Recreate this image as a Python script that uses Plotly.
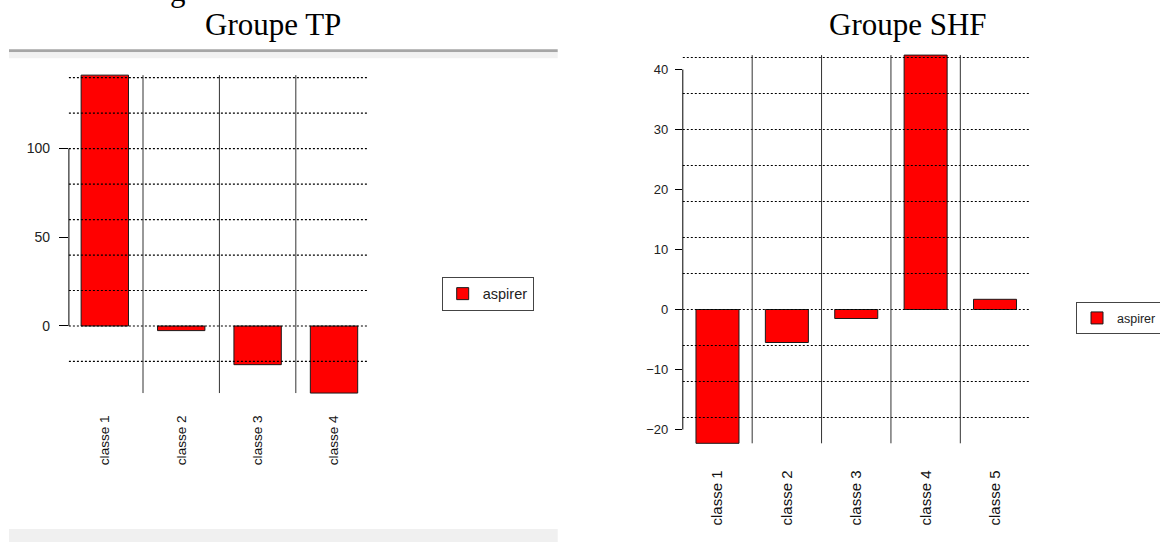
import plotly.graph_objects as go

# Groupe TP
tp_classes = ["classe 1", "classe 2", "classe 3", "classe 4"]
tp_aspirer = [141.4, -2.6, -21.8, -37.8]
tp_ticks = [0, 50, 100]
tp_grid = [-20, 0, 20, 40, 60, 80, 100, 120, 140]

# Groupe SHF
shf_classes = ["classe 1", "classe 2", "classe 3", "classe 4", "classe 5"]
shf_aspirer = [-22.3, -5.5, -1.5, 42.4, 1.7]
shf_ticks = [-20, -10, 0, 10, 20, 30, 40]
shf_grid = [-18, -12, -6, 0, 6, 12, 18, 24, 30, 36, 42]

W, H = 1160, 542
RED = "#ff0000"
SANS = "Liberation Sans, Arial, sans-serif"
NARROW = "Liberation Sans Narrow, Arial Narrow, Liberation Sans, sans-serif"
SERIF = "Liberation Serif, Times New Roman, serif"


def fx(p):
    return p / W


def fy(p):
    return 1 - p / H


fig = go.Figure()
fig.add_trace(go.Bar(x=tp_classes, y=tp_aspirer, name="aspirer",
                     marker=dict(color=RED, line=dict(color="#1a1a1a", width=1)),
                     xaxis="x", yaxis="y", legend="legend"))
fig.add_trace(go.Bar(x=shf_classes, y=shf_aspirer, name="aspirer",
                     marker=dict(color=RED, line=dict(color="#1a1a1a", width=1)),
                     xaxis="x2", yaxis="y2", legend="legend2"))

shapes = []
# dotted grid lines drawn over the bars
for v in tp_grid:
    shapes.append(dict(type="line", xref="x domain", yref="y", x0=0, x1=1, y0=v, y1=v,
                       line=dict(color="black", width=1.2, dash="2px,2px"), layer="above"))
for v in shf_grid:
    shapes.append(dict(type="line", xref="x2 domain", yref="y2", x0=0, x1=1, y0=v, y1=v,
                       line=dict(color="black", width=1.2, dash="2px,2px"), layer="above"))
# separators between classes
for i in range(len(tp_classes) - 1):
    shapes.append(dict(type="line", xref="x", yref="y", x0=i + 0.5, x1=i + 0.5,
                       y0=min(tp_aspirer), y1=max(tp_aspirer),
                       line=dict(color="#333", width=1)))
for i in range(len(shf_classes) - 1):
    shapes.append(dict(type="line", xref="x2", yref="y2", x0=i + 0.5, x1=i + 0.5,
                       y0=min(shf_aspirer), y1=max(shf_aspirer),
                       line=dict(color="#333", width=1)))
# y axis lines (only between first and last tick, like R)
shapes.append(dict(type="line", xref="x domain", yref="y", x0=0, x1=0,
                   y0=min(tp_ticks), y1=max(tp_ticks), line=dict(color="black", width=1)))
shapes.append(dict(type="line", xref="x2 domain", yref="y2", x0=0, x1=0,
                   y0=min(shf_ticks), y1=max(shf_ticks), line=dict(color="black", width=1)))
# page decorations of the left screenshot
shapes.append(dict(type="rect", xref="paper", yref="paper", x0=fx(9), x1=fx(557.7),
                   y0=fy(52.3), y1=fy(49.3), fillcolor="#a6a6a6", line_width=0, layer="below"))
shapes.append(dict(type="rect", xref="paper", yref="paper", x0=fx(9), x1=fx(557.7),
                   y0=fy(58.3), y1=fy(52.3), fillcolor="#f1f1f1", line_width=0, layer="below"))
shapes.append(dict(type="rect", xref="paper", yref="paper", x0=fx(9), x1=fx(557.7),
                   y0=0, y1=fy(529), fillcolor="#f0f0f0", line_width=0, layer="below"))

annotations = [
    dict(text="Groupe TP", xref="paper", yref="paper", x=fx(273), y=fy(24.5),
         xanchor="center", yanchor="middle",
         showarrow=False, font=dict(family=SERIF, size=31, color="black")),
    dict(text="Groupe SHF", xref="paper", yref="paper", x=fx(907.5), y=fy(24.5),
         xanchor="center", yanchor="middle",
         showarrow=False, font=dict(family=SERIF, size=31, color="black")),
    dict(text="g", xref="paper", yref="paper", x=fx(178), y=fy(-9),
         xanchor="center", yanchor="middle",
         showarrow=False, font=dict(family=SERIF, size=31, color="black")),
]

fig.update_layout(
    width=W, height=H,
    margin=dict(l=0, r=0, t=0, b=0, autoexpand=False),
    paper_bgcolor="white", plot_bgcolor="white",
    bargap=0.38,
    shapes=shapes,
    annotations=annotations,
    xaxis=dict(domain=[fx(68.9), fx(368.4)], range=[-0.47, 3.45], anchor="y",
               showgrid=False, zeroline=False, showline=False, ticks="",
               tickangle=-90, ticklabelstandoff=4, automargin=False,
               tickfont=dict(family=SANS, size=13.6, color="#111")),
    yaxis=dict(domain=[fy(407.6), fy(65.2)], range=[-46, 147], anchor="x",
               tickvals=tp_ticks, ticks="outside", ticklen=9, tickcolor="black",
               showgrid=False, zeroline=False, showline=False, automargin=False,
               ticklabelstandoff=6,
               tickfont=dict(family=SANS, size=14, color="#222")),
    xaxis2=dict(domain=[fx(682.8), fx(1029.7)], range=[-0.5, 4.5], anchor="y2",
                showgrid=False, zeroline=False, showline=False, ticks="",
                tickangle=-90, ticklabelstandoff=7, automargin=False,
                tickfont=dict(family=SANS, size=15, color="#111")),
    yaxis2=dict(domain=[fy(459.5), fy(39.5)], range=[-25, 45], anchor="x2",
                tickvals=shf_ticks, ticks="outside", ticklen=7, tickcolor="black",
                showgrid=False, zeroline=False, showline=False, automargin=False,
                ticklabelstandoff=4,
                tickfont=dict(family=NARROW, size=13, color="#222")),
    legend=dict(x=fx(441.7), y=fy(276.7), xanchor="left", yanchor="top",
                bgcolor="white", bordercolor="#444", borderwidth=1,
                font=dict(family=SANS, size=14.5, color="#222")),
    legend2=dict(x=fx(1076), y=fy(302.3), xanchor="left", yanchor="top",
                 bgcolor="white", bordercolor="#444", borderwidth=1,
                 font=dict(family=NARROW, size=12.5, color="#222")),
    showlegend=True,
)

# no page margin, and clip the right legend at the figure edge like the reference
fig.write_html(
    "out.html",
    config={"displayModeBar": False},
    post_script=("document.body.style.margin='0';"
                 "document.body.style.overflow='hidden';"
                 "document.getElementById('{plot_id}').style.overflow='hidden';"),
)
